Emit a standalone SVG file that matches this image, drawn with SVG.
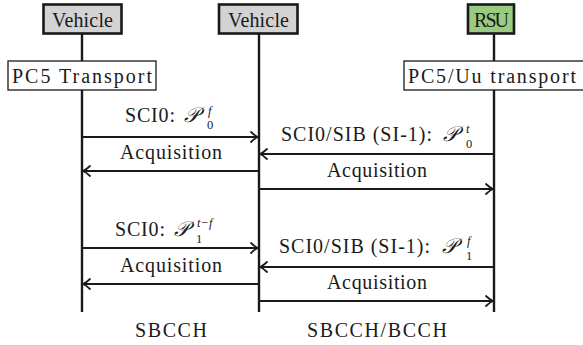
<svg xmlns="http://www.w3.org/2000/svg" width="583" height="345" viewBox="0 0 583 345">
  <style>
    text { font-family: "Liberation Serif", "DejaVu Serif", serif; font-size: 20px; fill: #1a1a1a; }
    .mid { text-anchor: middle; }
    .script { font-family: "DejaVu Sans", "DejaVu Serif", "Noto Sans", serif; font-style: italic; font-size: 21px; }
    .idx { font-size: 12.5px; }
    .it { font-style: italic; }
    .head { stroke: #1a1a1a; stroke-width: 2.6; }
    .vehicle { fill: #d3d3d3; }
    .rsu { fill: #99cc80; }
    .layer { fill: #ffffff; stroke: #1a1a1a; stroke-width: 1.3; }
    .life { stroke: #1a1a1a; stroke-width: 2.4; fill: none; }
    .msg { stroke: #1a1a1a; stroke-width: 2; fill: none; marker-end: url(#tip); }
  </style>
  <defs>
    <marker id="tip" markerUnits="userSpaceOnUse" markerWidth="12" markerHeight="12" viewBox="-9 -6 10 12" refX="0" refY="0" orient="auto">
      <path d="M -7 -5 Q -3 -1.2 0 0 Q -3 1.2 -7 5" fill="none" stroke="#1a1a1a" stroke-width="1.8" stroke-linecap="round"/>
    </marker>
  </defs>

  <!-- lifelines -->
  <g id="lifelines">
    <line class="life" x1="82" y1="33" x2="82" y2="312"/>
    <line class="life" x1="259" y1="33" x2="259" y2="312"/>
    <line class="life" x1="494" y1="33" x2="494" y2="312"/>
  </g>

  <!-- participants -->
  <g id="vehicle-a">
    <rect class="head vehicle" x="43.5" y="4.5" width="78" height="29"/>
    <text class="mid" x="82.5" y="27" textLength="61">Vehicle</text>
  </g>
  <g id="vehicle-b">
    <rect class="head vehicle" x="219" y="4.5" width="78.5" height="29"/>
    <text class="mid" x="258.5" y="27" textLength="61">Vehicle</text>
  </g>
  <g id="rsu">
    <rect class="head rsu" x="468" y="4.5" width="46" height="29"/>
    <text class="mid" x="491.5" y="27" textLength="35">RSU</text>
  </g>

  <!-- transport layers -->
  <g id="pc5-transport">
    <rect class="layer" x="8" y="61" width="148" height="29"/>
    <text x="12" y="83" textLength="140">PC5 Transport</text>
  </g>
  <g id="pc5-uu-transport">
    <rect class="layer" x="404" y="61" width="190" height="29"/>
    <text x="408" y="83" textLength="168">PC5/Uu transport</text>
  </g>

  <!-- messages -->
  <g id="connectors">
    <line class="msg" x1="82" y1="137" x2="258" y2="137"/>
    <line class="msg" x1="494" y1="154" x2="260" y2="154"/>
    <line class="msg" x1="259" y1="171" x2="83" y2="171"/>
    <line class="msg" x1="259" y1="189" x2="493" y2="189"/>
    <line class="msg" x1="82" y1="248" x2="258" y2="248"/>
    <line class="msg" x1="494" y1="267" x2="260" y2="267"/>
    <line class="msg" x1="259" y1="284" x2="83" y2="284"/>
    <line class="msg" x1="259" y1="301" x2="493" y2="301"/>
  </g>

  <!-- message labels -->
  <g id="labels">
    <text x="125" y="122" textLength="50">SCI0:</text>
    <text class="script" x="184" y="122">𝒫</text>
    <text class="idx it" x="208" y="115">f</text>
    <text class="idx" x="207" y="129">0</text>

    <text x="281" y="141" textLength="151">SCI0/SIB (SI-1):</text>
    <text class="script" x="443" y="141">𝒫</text>
    <text class="idx it" x="466" y="133">t</text>
    <text class="idx" x="466" y="148">0</text>

    <text class="mid" x="171" y="159" textLength="102">Acquisition</text>
    <text class="mid" x="377" y="177" textLength="100">Acquisition</text>

    <text x="115" y="236" textLength="50">SCI0:</text>
    <text class="script" x="174" y="236">𝒫</text>
    <text class="idx it" x="197" y="227">t−f</text>
    <text class="idx" x="196" y="243">1</text>

    <text x="279" y="253" textLength="151">SCI0/SIB (SI-1):</text>
    <text class="script" x="442" y="253">𝒫</text>
    <text class="idx it" x="467" y="245">f</text>
    <text class="idx" x="466" y="260">1</text>

    <text class="mid" x="171" y="272" textLength="102">Acquisition</text>
    <text class="mid" x="377" y="289" textLength="100">Acquisition</text>
  </g>

  <!-- channel names -->
  <g id="channels">
    <text class="mid" x="171" y="337" textLength="72">SBCCH</text>
    <text class="mid" x="377" y="337" textLength="140">SBCCH/BCCH</text>
  </g>
</svg>
